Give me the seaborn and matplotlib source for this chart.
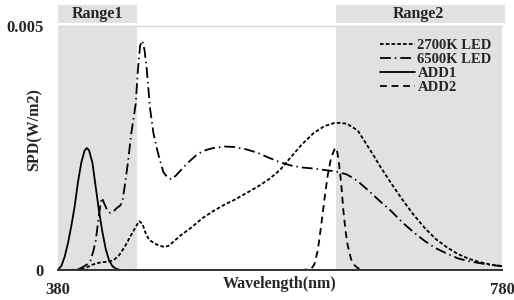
import numpy as np
import pandas as pd
import matplotlib.pyplot as plt
import seaborn as sns
from matplotlib.patches import Rectangle

# --- data (wavelength nm, SPD W/m2) ---
wl_2700 = [380, 395, 400, 405, 410, 415, 420, 425, 430, 435, 440, 445, 450, 453, 456, 459,
           462, 466, 470, 476, 480, 490, 500, 510, 520, 530, 540, 550, 560, 570, 580, 590,
           600, 610, 620, 630, 640, 650, 655, 660, 665, 670, 680, 690, 700, 710, 720, 730,
           740, 750, 760, 770, 780]
spd_2700 = [0, 0, 0.00001, 0.00004, 0.0001, 0.00014, 0.00016, 0.00017, 0.0002, 0.0003,
            0.00047, 0.00068, 0.00088, 0.001, 0.00095, 0.00075, 0.00062, 0.00056, 0.00051,
            0.00047, 0.0005, 0.0007, 0.00087, 0.00106, 0.00121, 0.00134, 0.00145, 0.00158,
            0.00171, 0.00186, 0.00205, 0.00232, 0.00258, 0.0028, 0.00295, 0.00302, 0.003,
            0.00286, 0.00268, 0.0025, 0.00232, 0.00213, 0.00178, 0.00145, 0.00114, 0.00087,
            0.00064, 0.00047, 0.00033, 0.00023, 0.00016, 0.00011, 0.00008]

wl_6500 = [380, 390, 395, 400, 403, 406, 409, 412, 414, 416, 418, 419.5, 421, 424, 427, 430,
           433, 436, 438, 440, 443, 446, 448, 450, 452, 454, 456, 458, 460, 463, 466, 470,
           475, 479, 482, 486, 490, 495, 500, 505, 510, 515, 520, 530, 540, 545, 550, 560,
           570, 580, 590, 600, 610, 620, 630, 640, 646, 650, 660, 670, 680, 690, 700, 710,
           720, 730, 740, 750, 760, 770, 780]
spd_6500 = [0, 0, 0.00001, 0.00003, 0.00007, 0.00011, 0.00017, 0.0004, 0.0006, 0.00096,
            0.0013, 0.00148, 0.0014, 0.00124, 0.00117, 0.0012, 0.00127, 0.00132, 0.0014,
            0.0017, 0.0022, 0.0028, 0.0031, 0.0034, 0.0041, 0.0046, 0.0047, 0.0045, 0.0041,
            0.0033, 0.0028, 0.0024, 0.002, 0.00189, 0.00186, 0.00193, 0.00203, 0.00215,
            0.00226, 0.00236, 0.00243, 0.00247, 0.0025, 0.00253, 0.00252, 0.00249, 0.00247,
            0.0024, 0.0023, 0.00221, 0.00214, 0.0021, 0.00208, 0.00205, 0.00202, 0.00196,
            0.00188, 0.00182, 0.00162, 0.00141, 0.00121, 0.00098, 0.00078, 0.0006, 0.00045,
            0.00034, 0.00024, 0.00018, 0.00014, 0.0001, 0.00008]

wl_add1 = [380, 383, 386, 389, 392, 395, 398, 401, 404, 406, 408, 411, 414, 417, 420, 423,
           426, 429, 432, 436]
spd_add1 = [0.00001, 0.00008, 0.00027, 0.00055, 0.0009, 0.0013, 0.0018, 0.0022, 0.00245,
            0.0025, 0.00245, 0.0022, 0.0017, 0.0012, 0.00078, 0.00043, 0.0002, 0.00008,
            0.00003, 0]

wl_add2 = [380, 600, 608, 611, 614, 617, 620, 623, 626, 629, 631, 633, 635, 637, 639, 641,
           644, 647, 650, 654]
spd_add2 = [0, 0, 0.00002, 0.00012, 0.0004, 0.0009, 0.00145, 0.00195, 0.0023, 0.00247,
            0.0025, 0.0022, 0.0018, 0.00123, 0.0008, 0.0005, 0.00022, 0.0001, 0.00004, 0]

series_names = ['2700K LED', '6500K LED', 'ADD1', 'ADD2']
ranges = [(380, 451, 'Range1'), (630, 780, 'Range2')]

frames = []
for name, wl, spd in zip(series_names,
                         [wl_2700, wl_6500, wl_add1, wl_add2],
                         [spd_2700, spd_6500, spd_add1, spd_add2]):
    frames.append(pd.DataFrame({'Wavelength': wl, 'SPD': spd, 'Source': name}))
df = pd.concat(frames, ignore_index=True)

sns.set_style('white')
plt.rcParams['font.family'] = ['Liberation Serif', 'DejaVu Serif']
plt.rcParams['font.weight'] = 'bold'

fig = plt.figure(figsize=(5.14, 3.0), dpi=100)
ax = fig.add_axes([0.1128, 0.1, 0.8640, 0.8133])

shade = '#e1e1e1'
for x0, x1, label in ranges:
    ax.axvspan(x0, x1, color=shade, lw=0, zorder=0)
    ax.add_patch(Rectangle((x0, 1.012), x1 - x0 + (3 if label == 'Range2' else 0), 0.074,
                           transform=ax.get_xaxis_transform(), clip_on=False,
                           facecolor=shade, edgecolor='none'))
    ax.text((x0 + x1) / 2, 1.05, label, transform=ax.get_xaxis_transform(),
            ha='center', va='center', fontsize=11.5, fontweight='bold')

styles = {
    '2700K LED': (0, (2.0, 1.2)),
    '6500K LED': (0, (6, 2.2, 0.8, 2.2)),
    'ADD1': '-',
    'ADD2': (0, (3.8, 2.6)),
}
for name in series_names:
    sns.lineplot(data=df[df['Source'] == name], x='Wavelength', y='SPD', ax=ax,
                 color='black', lw=1.3, linestyle=styles[name], label=name,
                 estimator=None, sort=False)

ax.set_xlim(380, 780)
ax.set_ylim(0, 0.005)
ax.set_xticks([380, 780])
ax.set_yticks([0, 0.005])
ax.set_yticklabels(['0', '0.005'])
ax.tick_params(length=0, labelsize=12)
ax.tick_params(axis='x', pad=9)
ax.tick_params(axis='y', pad=10)

for side in ['left', 'right']:
    ax.spines[side].set_visible(False)
ax.spines['top'].set_color('#d8d8d8')
ax.spines['top'].set_linewidth(1.0)
ax.spines['bottom'].set_color('#333333')
ax.spines['bottom'].set_linewidth(1.4)

ax.set_xlabel('Wavelength(nm)', fontsize=11.5, fontweight='bold')
ax.xaxis.set_label_coords(0.5, -0.025)
ax.set_ylabel('SPD(W/m2)', fontsize=11.5, fontweight='bold')
ax.yaxis.set_label_coords(-0.034, 0.574)

ax.legend(loc='upper right', bbox_to_anchor=(1.0, 0.99), frameon=False, fontsize=10.5,
          labelspacing=0.05, handlelength=2.4, handletextpad=0.15, borderaxespad=0.3)

plt.savefig('out.png', dpi=100)
